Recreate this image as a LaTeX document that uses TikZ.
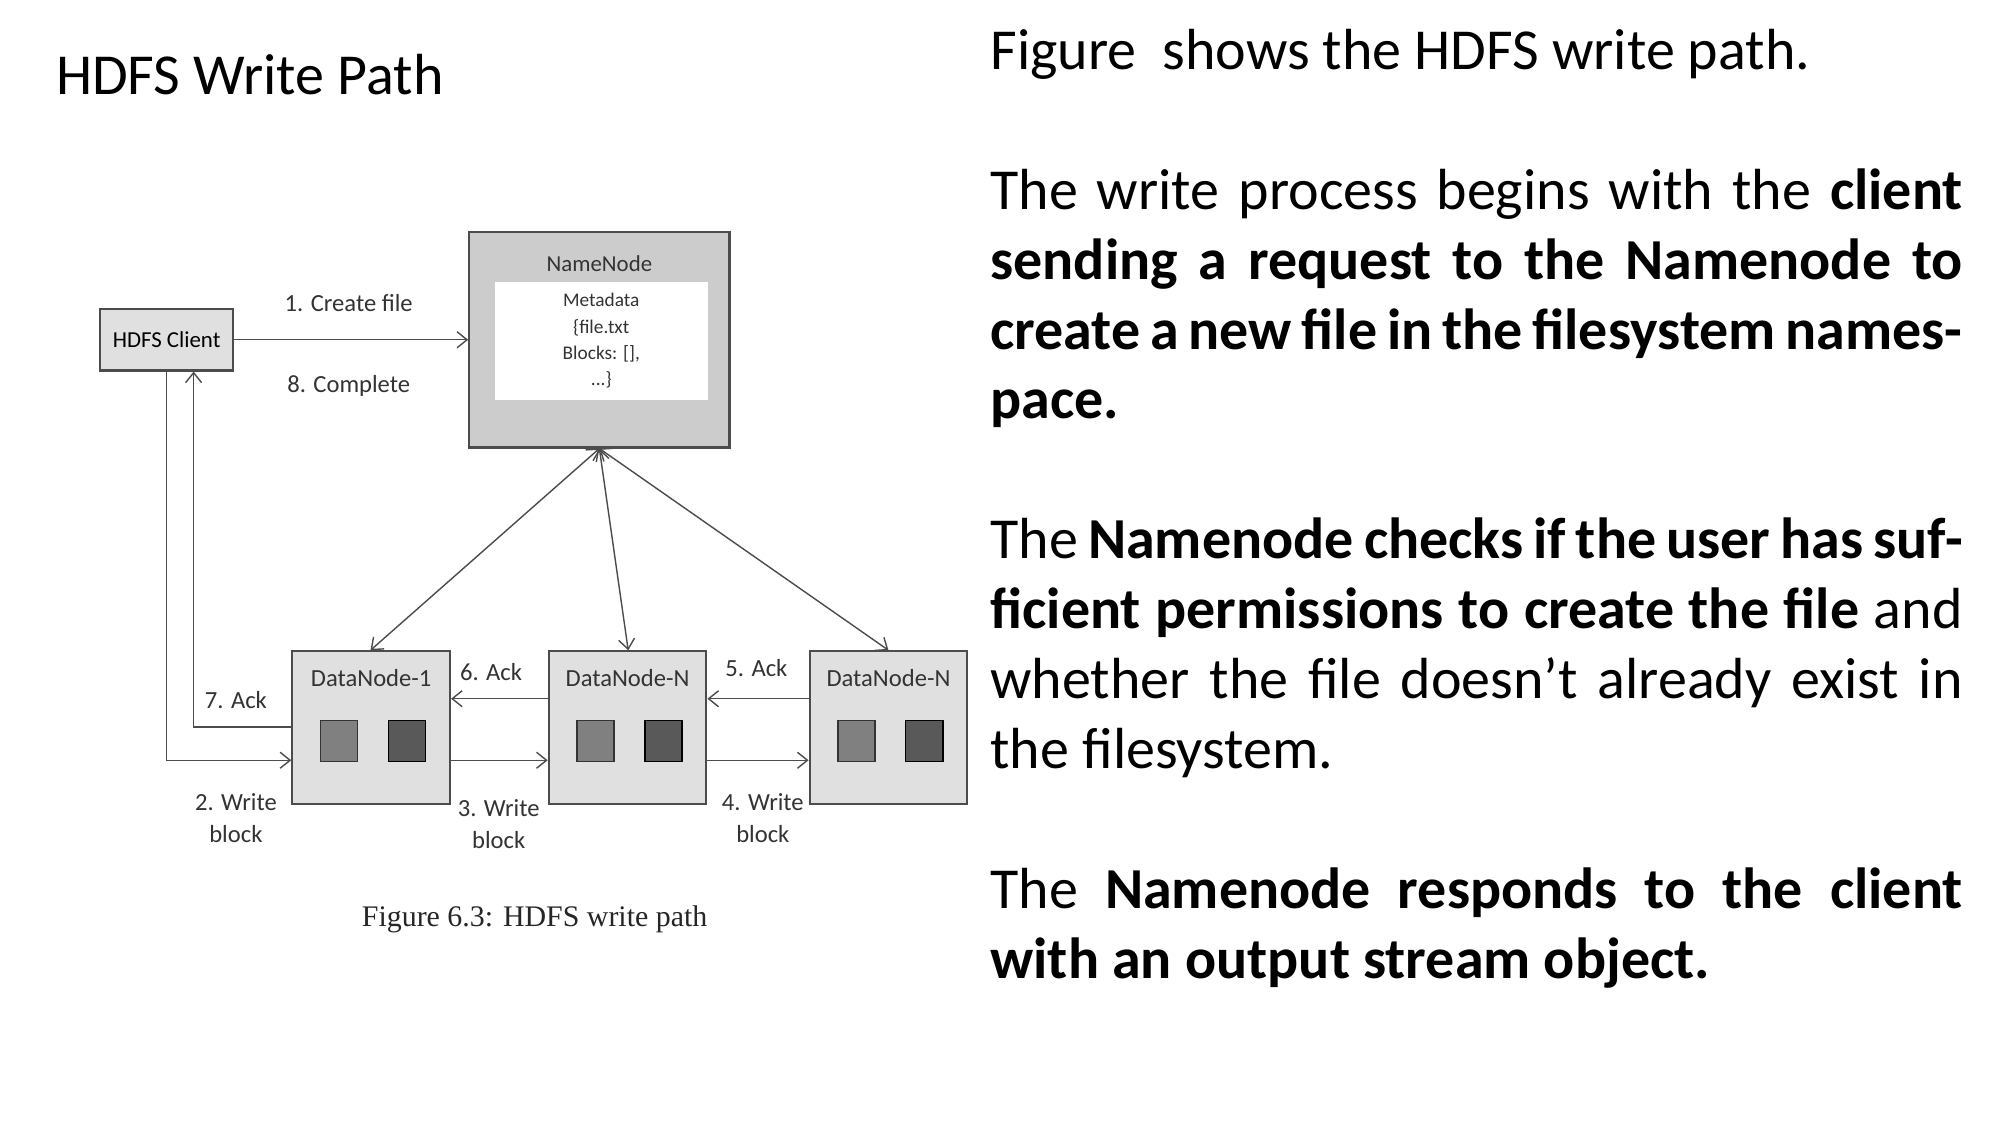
\documentclass[tikz,border=0pt]{standalone}
\usepackage{fontspec}
\setmainfont{Carlito}
\newfontfamily\capfont{Liberation Serif}
\usetikzlibrary{arrows.meta,positioning}

\begin{document}
\begin{tikzpicture}[x=0.01282cm,y=-0.01282cm,
  box/.style={draw=black!70,fill=black!12,line width=0.6pt,inner sep=0pt},
  blk/.style={draw=black!80,fill=black!55,minimum width=29\pgflinewidth,inner sep=0pt},
  lbl/.style={font=\fontsize{6.5}{8}\selectfont,align=center,text=black!80},
  arr/.style={-{Straight Barb[length=1mm,width=1.6mm]},black!70,line width=0.4pt}]
\useasboundingbox (0,0) rectangle (1560,877.5);
\fill[white] (0,0) rectangle (1560,877.5);
\def\dw{123}

% heading
\node[anchor=west,font=\fontsize{16.5}{20}\selectfont] (title) at (34,58) {HDFS Write Path};

% boxes
\node[box,minimum width=104*0.01282cm,minimum height=48*0.01282cm,font=\fontsize{6.5}{8}\selectfont] (client) at (130,265) {HDFS Client};
\node[box,fill=black!20,minimum width=203*0.01282cm,minimum height=168*0.01282cm] (nn) at (467.5,265) {};
\node[lbl,below=0.12cm of nn.north] (nnt) {NameNode};
\node[fill=white,minimum width=166*0.01282cm,minimum height=88*0.01282cm,lbl,font=\fontsize{5.5}{7.5}\selectfont] (meta) at (469,266) {Metadata\\\{file.txt\\Blocks: [],\\...\}};

\foreach \n/\x/\t in {d1/289.5/DataNode-1,d2/489.5/DataNode-N,d3/693/DataNode-N}{
  \node[box,minimum width=\dw*0.01282cm,minimum height=119*0.01282cm] (\n) at (\x,567.5) {};
  \node[lbl,font=\fontsize{7}{8}\selectfont] (\n t) at (\x,529) {\t};
  \node[draw=black!80,fill=black!50,minimum width=29*0.01282cm,minimum height=32*0.01282cm,inner sep=0pt] (\n a) at (\x-25,578) {};
  \node[draw=black,fill=black!65,minimum width=29*0.01282cm,minimum height=32*0.01282cm,inner sep=0pt] (\n b) at (\x+28,578) {};
}

% connectors
\draw[arr] (client.east) -- (client.east -| nn.west);
\draw[arr] (client.south -| 130,0) -- (130,593) -- (d1.west |- 0,593);
\draw[arr] (d1.west |- 0,567) -- (151,567) -- (client.south -| 151,0);
\draw[arr] (d1.east |- 0,593) -- (d2.west |- 0,593);
\draw[arr] (d2.east |- 0,593) -- (d3.west |- 0,593);
\draw[arr] (d3.west |- 0,545) -- (d2.east |- 0,545);
\draw[arr] (d2.west |- 0,545) -- (d1.east |- 0,545);
\foreach \n/\x in {d1/289,d2/490,d3/693}
  \draw[arr,{Straight Barb[length=1mm,width=1.6mm]}-{Straight Barb[length=1mm,width=1.6mm]}] (nn.south) -- (\n.north -| \x,0);

% labels
\node[lbl,font=\fontsize{7}{8}\selectfont] (l1) at (272,236) {1. Create file};
\node[lbl,font=\fontsize{7}{8}\selectfont] (l8) at (272,301) {8. Complete};
\node[lbl,font=\fontsize{7}{8}\selectfont] (l7) at (184,546) {7. Ack};
\node[lbl,font=\fontsize{7}{9}\selectfont] (l2) at (184,638) {2. Write\\block};
\node[lbl,font=\fontsize{7}{8}\selectfont] (l6) at (383,524) {6. Ack};
\node[lbl,font=\fontsize{7}{9}\selectfont] (l3) at (389,643) {3. Write\\block};
\node[lbl,font=\fontsize{7}{8}\selectfont] (l5) at (590,521) {5. Ack};
\node[lbl,font=\fontsize{7}{9}\selectfont] (l4) at (595,638) {4. Write\\block};
\node[font=\capfont\fontsize{8.5}{10}\selectfont,text=black!85] (cap) at (417,717) {Figure 6.3: HDFS write path};

% text
\node[anchor=north west,text width=9.72cm,align=justify,inner sep=0pt,
  font=\fontsize{16.5}{19.9}\selectfont] (txt) at (772,22) {%
Figure\ \ shows the HDFS write path.\par\vspace{19.9pt}
The write process begins with the \textbf{client sending a request to the Namenode to create a new file in the filesystem namespace.}\par\vspace{19.9pt}
The \textbf{Namenode checks if the user has sufficient permissions to create the file} and whether the file doesn’t already exist in the filesystem.\par\vspace{19.9pt}
The \textbf{Namenode responds to the client with an output stream object.}};
\end{tikzpicture}
\end{document}
